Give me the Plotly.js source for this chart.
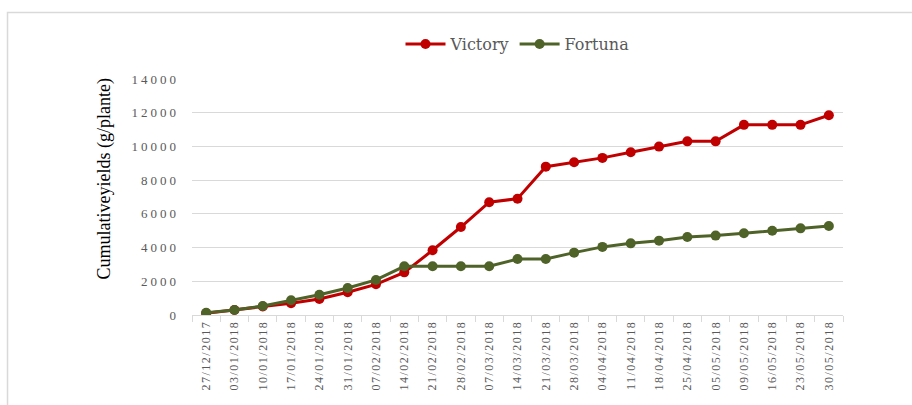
<!DOCTYPE html>
<html>
<head>
<meta charset="utf-8">
<script src="https://cdn.plot.ly/plotly-3.0.1.min.js"></script>
<style>
html, body { margin: 0; padding: 0; background: #fff; }
#chart { width: 912px; height: 405px; }
#chart .ytick text { letter-spacing: 3px; }
#chart .xtick text { letter-spacing: 1.5px; }
</style>
</head>
<body>
<div id="chart"></div>
<script>
var dates = ["27/12/2017","03/01/2018","10/01/2018","17/01/2018","24/01/2018","31/01/2018","07/02/2018","14/02/2018","21/02/2018","28/02/2018","07/03/2018","14/03/2018","21/03/2018","28/03/2018","04/04/2018","11/04/2018","18/04/2018","25/04/2018","05/05/2018","09/05/2018","16/05/2018","23/05/2018","30/05/2018"];
var victory = [100, 300, 500, 700, 950, 1350, 1820, 2530, 3840, 5220, 6690, 6900, 8800, 9060, 9320, 9650, 9990, 10300, 10300, 11280, 11280, 11280, 11850];
var fortuna = [130, 300, 530, 870, 1200, 1600, 2080, 2890, 2890, 2890, 2890, 3320, 3320, 3700, 4040, 4250, 4410, 4630, 4710, 4850, 5000, 5140, 5280];
var yTicks = [0, 2000, 4000, 6000, 8000, 10000, 12000, 14000];

var serif = "Times New Roman";

var traces = [
  {x: dates, y: victory, name: "Victory", type: "scatter", mode: "lines+markers",
   line: {color: "#c00000", width: 3}, marker: {color: "#c00000", size: 10}},
  {x: dates, y: fortuna, name: "Fortuna", type: "scatter", mode: "lines+markers",
   line: {color: "#4f6228", width: 3}, marker: {color: "#4f6228", size: 10}}
];

var layout = {
  width: 912, height: 405,
  margin: {l: 192, r: 69, t: 79, b: 90},
  paper_bgcolor: "#ffffff", plot_bgcolor: "#ffffff",
  font: {family: serif, color: "#595959"},
  showlegend: true,
  legend: {orientation: "h", x: 0.5, xanchor: "center", y: 1.148, yanchor: "middle",
           font: {size: 16, color: "#595959", family: "DejaVu Serif"}, itemwidth: 40, tracegroupgap: 0},
  xaxis: {type: "category", range: [-0.5, 22.5], tickangle: -90,
          showline: true, linecolor: "#d9d9d9", linewidth: 1,
          ticks: "outside", tickson: "boundaries", ticklen: 6, tickcolor: "#d9d9d9",
          showgrid: false, zeroline: false, fixedrange: true,
          tickfont: {size: 12, color: "#595959", family: serif}},
  yaxis: {range: [0, 14000], tickvals: yTicks, ticktext: yTicks.map(String),
          showgrid: true, gridcolor: "#d9d9d9", gridwidth: 1,
          showline: false, zeroline: false, ticks: "", ticklabelstandoff: 12,
          tickfont: {size: 13, color: "#595959", family: serif}, fixedrange: true},
  annotations: [{
    text: "Cumulativeyields (g/plante)", xref: "paper", yref: "paper",
    x: -0.1336, y: 0.574, xanchor: "center", yanchor: "middle", textangle: -90,
    showarrow: false, font: {size: 18, color: "#000000", family: "Liberation Serif"}
  }],
  shapes: [{
    type: "rect", xref: "paper", yref: "paper",
    x0: -0.2834, x1: 1.12, y0: -0.45, y1: 1.2818,
    line: {color: "#d9d9d9", width: 1.5}, fillcolor: "rgba(0,0,0,0)", layer: "above"
  }]
};

Plotly.newPlot("chart", traces, layout, {staticPlot: true, displayModeBar: false});
</script>
</body>
</html>
